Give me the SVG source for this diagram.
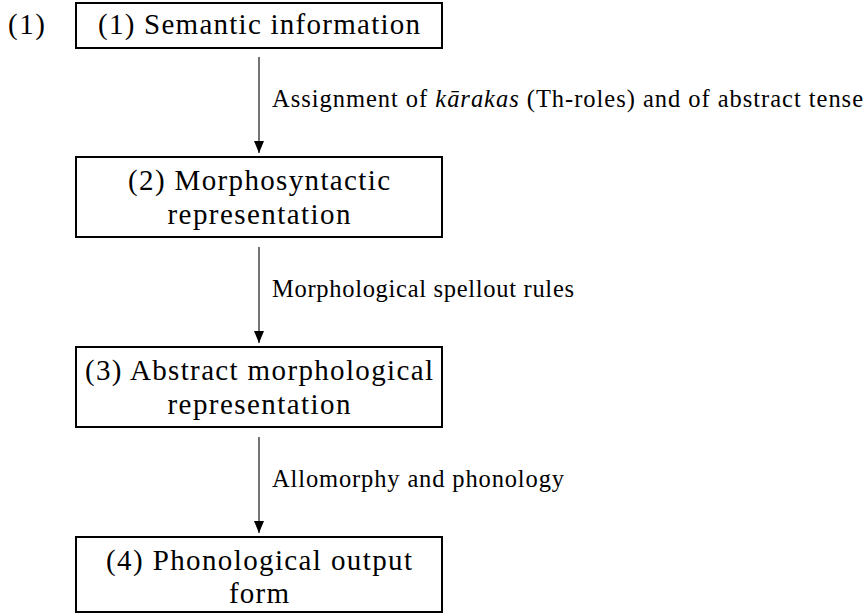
<svg xmlns="http://www.w3.org/2000/svg" width="866" height="614" viewBox="0 0 866 614">
<style>
  .box { fill: #ffffff; stroke: #000000; stroke-width: 2; }
  .bt { font-family: "Liberation Serif", "DejaVu Serif", serif; font-size: 29px; fill: #000000; text-anchor: middle; }
  .lt { font-family: "Liberation Serif", "DejaVu Serif", serif; font-size: 24.5px; fill: #000000; }
  .edge { stroke: #000000; stroke-width: 1.1; fill: none; marker-end: url(#ah); }
</style>
<defs>
  <marker id="ah" markerUnits="userSpaceOnUse" markerWidth="13" markerHeight="12" viewBox="-12 -6 13 12" refX="0" refY="0" orient="auto">
    <path d="M -12 -5 L 0 0 L -12 5 Z" fill="#000000"/>
  </marker>
</defs>
<rect width="866" height="614" fill="#ffffff"/>
<text font-family="Liberation Serif, DejaVu Serif, serif" font-size="29" x="8" y="34" textLength="37" lengthAdjust="spacing">(1)</text>
<g id="n1">
  <rect class="box" x="76" y="3" width="366" height="45"/>
  <text class="bt" x="259" y="34" textLength="322" lengthAdjust="spacing">(1) Semantic information</text>
</g>
<g id="n2">
  <rect class="box" x="76" y="157" width="366" height="80"/>
  <text class="bt" x="259" y="190" textLength="262" lengthAdjust="spacing">(2) Morphosyntactic</text>
  <text class="bt" x="259" y="224" textLength="183" lengthAdjust="spacing">representation</text>
</g>
<g id="n3">
  <rect class="box" x="76" y="347" width="366" height="80"/>
  <text class="bt" x="259" y="380" textLength="348" lengthAdjust="spacing">(3) Abstract morphological</text>
  <text class="bt" x="259" y="414" textLength="183" lengthAdjust="spacing">representation</text>
</g>
<g id="n4">
  <rect class="box" x="76" y="537" width="366" height="75"/>
  <text class="bt" x="259" y="570" textLength="306" lengthAdjust="spacing">(4) Phonological output</text>
  <text class="bt" x="259" y="603" textLength="60" lengthAdjust="spacing">form</text>
</g>
<g id="connectors">
  <line class="edge" x1="259" y1="57" x2="259" y2="153"/>
  <text class="lt" x="272" y="107" textLength="591" lengthAdjust="spacing">Assignment of <tspan font-style="italic">kārakas</tspan> (Th-roles) and of abstract tense</text>
  <line class="edge" x1="259" y1="247" x2="259" y2="343"/>
  <text class="lt" x="272" y="297" textLength="302" lengthAdjust="spacing">Morphological spellout rules</text>
  <line class="edge" x1="259" y1="437" x2="259" y2="533"/>
  <text class="lt" x="272" y="487" textLength="292" lengthAdjust="spacing">Allomorphy and phonology</text>
</g>
</svg>
